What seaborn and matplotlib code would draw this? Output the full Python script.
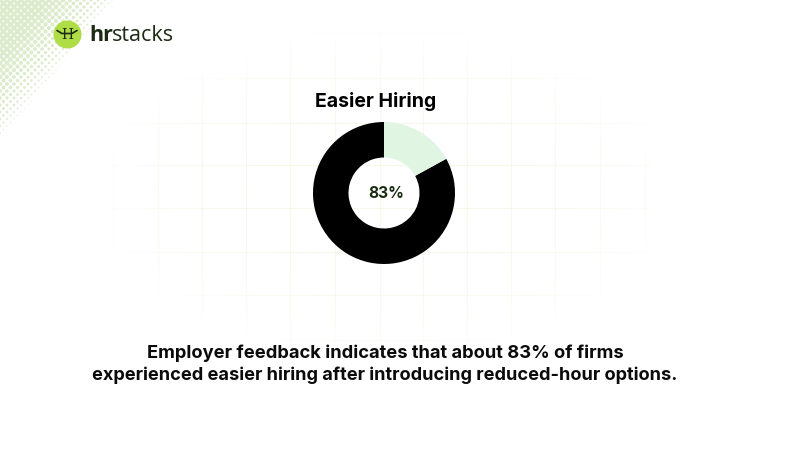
import numpy as np
import matplotlib
matplotlib.use("Agg")
import matplotlib.pyplot as plt
import seaborn as sns
from matplotlib.collections import LineCollection

labels = ["Easier hiring", "Other"]
values = [83, 17]
slice_colors = ["#000000", "#E1F5E3"]
title = "Easier Hiring"
center_label = "83%"
caption = ["Employer feedback indicates that about 83% of firms",
           "experienced easier hiring after introducing reduced-hour options."]
grid_x = [113, 158, 202, 246, 290, 335, 380, 423, 467, 511, 555, 600, 645]
grid_y = [33, 78, 123, 165, 208, 252, 295, 340]

sns.set_theme(style="white")
fig = plt.figure(figsize=(7.9, 4.5), dpi=100, facecolor="white")
bg = fig.add_axes([0, 0, 1, 1])
bg.set_xlim(0, 790); bg.set_ylim(450, 0); bg.axis("off")

# faint grid, fading from the centre
cx, cy = 380, 190
segs, cols = [], []
def add(x0, y0, x1, y1):
    for t in np.linspace(0, 1, 30)[:-1]:
        xa, ya = x0 + (x1-x0)*t, y0 + (y1-y0)*t
        xb, yb = xa + (x1-x0)/29, ya + (y1-y0)/29
        d = np.hypot((xa-cx)/285, (ya-cy)/165)
        segs.append([(xa, ya), (xb, yb)])
        cols.append((0.93, 0.96, 0.86, 0.6*max(0, 1-d**3)))
for x in grid_x:
    add(x, 30, x, 345)
for y in grid_y:
    add(110, y, 650, y)
bg.add_collection(LineCollection(segs, colors=cols, linewidths=0.8, zorder=0))

# halftone corner
xs, ys, ss = [], [], []
for row in range(0, 42):
    for col in range(0, 20):
        x = col*7.0 + (3.5 if row % 2 else 0)
        y = row*3.5
        f = 1 - (x/118 + y/142)
        if f > 0:
            xs.append(x); ys.append(y); ss.append(15*min(1, f*1.6)**1.1)
bg.scatter(xs, ys, s=ss, color="#DCEBCB", linewidths=0, zorder=1)

# logo
bg.scatter([67], [34], s=406, color="#AEDD45", linewidths=0, zorder=2)
bg.text(67, 35, "H", ha="center", va="center", fontsize=10, family="DejaVu Serif",
        color="#1C2B14", zorder=3)
bg.plot([57, 62, 72, 77], [30.5, 33.5, 33.5, 30.5], color="#1C2B14", lw=1.2, zorder=3)
bg.text(89, 35.5, "hr", ha="left", va="center", fontsize=15.5, fontweight="bold",
        family="Open Sans", color="#1C2B14")
bg.text(111.5, 35.5, "stacks", ha="left", va="center", fontsize=15.5, family="Open Sans",
        color="#1C2B14")

# donut
ax = fig.add_axes([313/790, (450-264)/450, 142/790, 142/450])
ax.pie(values, colors=slice_colors, startangle=90, counterclock=True, radius=1,
       wedgeprops=dict(width=0.5, linewidth=0))
ax.set_xlim(-1, 1); ax.set_ylim(-1, 1)
ax.text(0.03, -0.01, center_label, ha="center", va="center", fontsize=11.2, fontweight="bold",
        family="Inter", color="#1C2B14")

bg.text(376, 101.5, title, ha="center", va="center", fontsize=14, fontweight="bold",
        family="Inter", color="#000000")
bg.text(385, 353.5, caption[0], ha="center", va="center", fontsize=13.2, fontweight="bold",
        family="Inter", color="#0B0B0B")
bg.text(385, 375.5, caption[1], ha="center", va="center", fontsize=13.1, fontweight="bold",
        family="Inter", color="#0B0B0B")

fig.savefig("out.png", dpi=100, facecolor="white")
